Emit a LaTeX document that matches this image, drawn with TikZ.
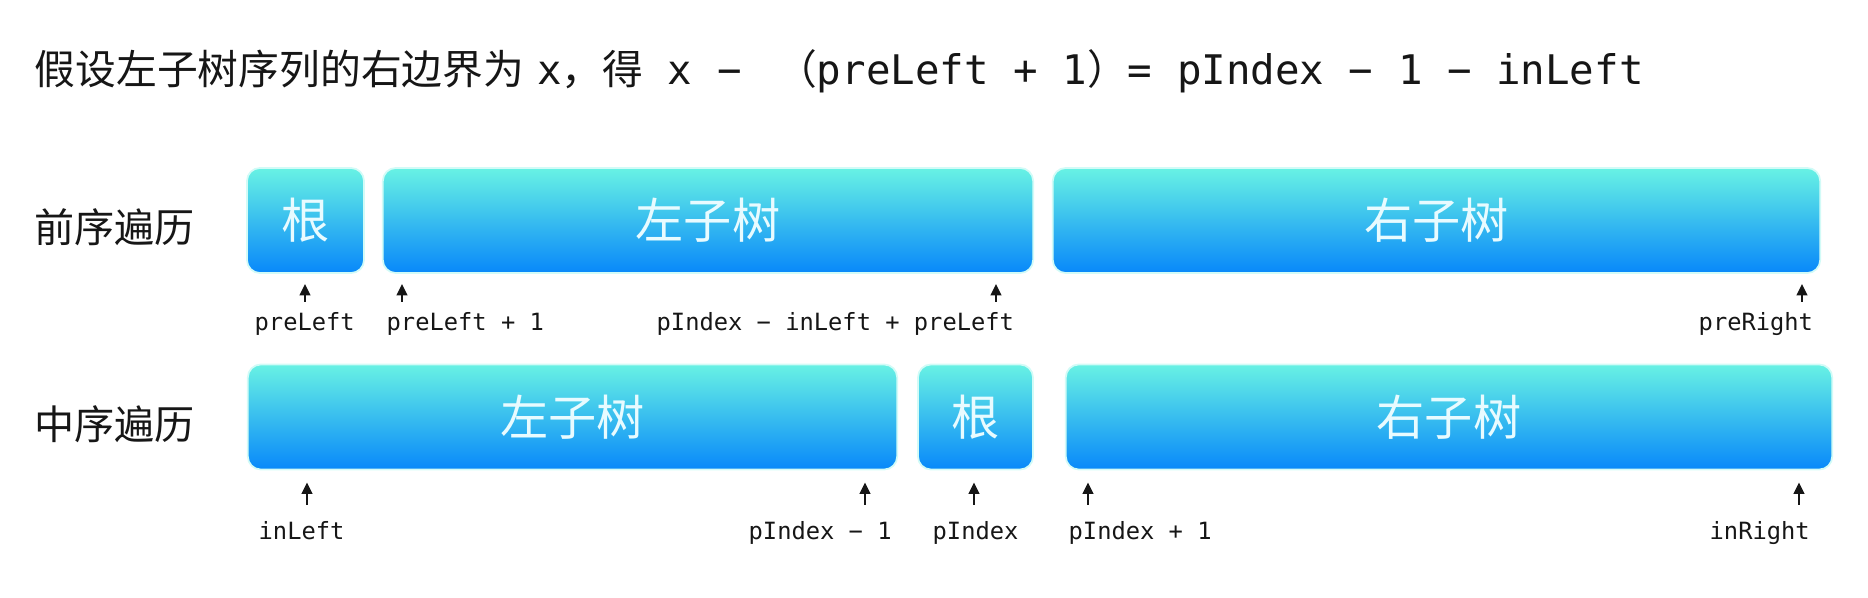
\documentclass[tikz,border=0pt]{standalone}
\usepackage{fontspec}
\setmonofont{DejaVu Sans Mono}
\newfontfamily\cjk{Noto Sans CJK SC}
\usetikzlibrary{arrows.meta}
\definecolor{segtop}{RGB}{104,242,228}
\definecolor{segbot}{RGB}{8,136,250}
\definecolor{segtext}{RGB}{232,251,255}
\definecolor{ink}{RGB}{22,22,22}

\begin{document}
\begin{tikzpicture}[x=0.01cm,y=-0.01cm,
    seg/.style={rounded corners=0.13cm, top color=segtop, bottom color=segbot, draw=segtop!30, line width=0.5pt, inner sep=0pt, outer sep=0pt, minimum height=1.05cm, text=segtext, font=\cjk\fontsize{13.7}{16}\selectfont},
    rowlbl/.style={anchor=west, inner sep=0pt, text=ink, font=\cjk\fontsize{11.4}{14}\selectfont},
    idx/.style={anchor=base west, inner sep=0pt, text=ink, font=\ttfamily\fontsize{6.75}{8}\selectfont},
    ptr/.style={-{Triangle[length=3.2pt,width=3pt]}, line width=0.65pt, ink}]
    \useasboundingbox (0,0) rectangle (1868,598);

    % Title line
    \node[anchor=base west, inner sep=0pt, text=ink, font=\ttfamily\fontsize{11.6}{14}\selectfont] (title) at (34,85) {{\cjk 假设左子树序列的右边界为}\hspace{0.13cm}x{\cjk ，得} x − \hspace{0.1cm}{\cjk （}preLeft + 1{\cjk ）}= pIndex − 1 − inLeft};

    % Row labels
    \node[rowlbl] (pre) at (34,227) {前序遍历};
    \node[rowlbl] (in) at (34,424) {中序遍历};

    % Preorder segments
    \node[seg, minimum width=1.17cm] (preRoot) at (305.5,220.5) {根};
    \node[seg, minimum width=6.50cm] (preL) at (708,220.5) {左子树};
    \node[seg, minimum width=7.67cm] (preR) at (1436.5,220.5) {右子树};

    % Inorder segments
    \node[seg, minimum width=6.49cm] (inL) at (572.5,417) {左子树};
    \node[seg, minimum width=1.15cm] (inRoot) at (975.5,417) {根};
    \node[seg, minimum width=7.66cm] (inR) at (1449,417) {右子树};

    % Preorder indices
    \node[idx] (preLeft) at (254,331) {preLeft};
    \node[idx] (preLeftA) at (386,331) {preLeft + 1};
    \node[idx] (preLeftB) at (656,331) {pIndex − inLeft + preLeft};
    \node[idx] (preRight) at (1698,331) {preRight};
    \coordinate (a1) at (305,302);
    \coordinate (a2) at (402,302);
    \coordinate (a3) at (996,302);
    \coordinate (a4) at (1802,302);
    \draw[ptr, shorten >=0.11cm] (a1) -- (a1 |- preRoot.south);
    \draw[ptr, shorten >=0.11cm] (a2) -- (a2 |- preL.south);
    \draw[ptr, shorten >=0.11cm] (a3) -- (a3 |- preL.south);
    \draw[ptr, shorten >=0.11cm] (a4) -- (a4 |- preR.south);

    % Inorder indices
    \node[idx] (inLeft) at (258,540) {inLeft};
    \node[idx] (pIdxM) at (748,540) {pIndex − 1};
    \node[idx] (pIdx) at (932,540) {pIndex};
    \node[idx] (pIdxP) at (1068,540) {pIndex + 1};
    \node[idx] (inRight) at (1709,540) {inRight};
    \coordinate (b1) at (307,505);
    \coordinate (b2) at (865,505);
    \coordinate (b3) at (974,505);
    \coordinate (b4) at (1088,505);
    \coordinate (b5) at (1799,505);
    \draw[ptr, shorten >=0.13cm] (b1) -- (b1 |- inL.south);
    \draw[ptr, shorten >=0.13cm] (b2) -- (b2 |- inL.south);
    \draw[ptr, shorten >=0.13cm] (b3) -- (b3 |- inRoot.south);
    \draw[ptr, shorten >=0.13cm] (b4) -- (b4 |- inR.south);
    \draw[ptr, shorten >=0.13cm] (b5) -- (b5 |- inR.south);
\end{tikzpicture}
\end{document}
